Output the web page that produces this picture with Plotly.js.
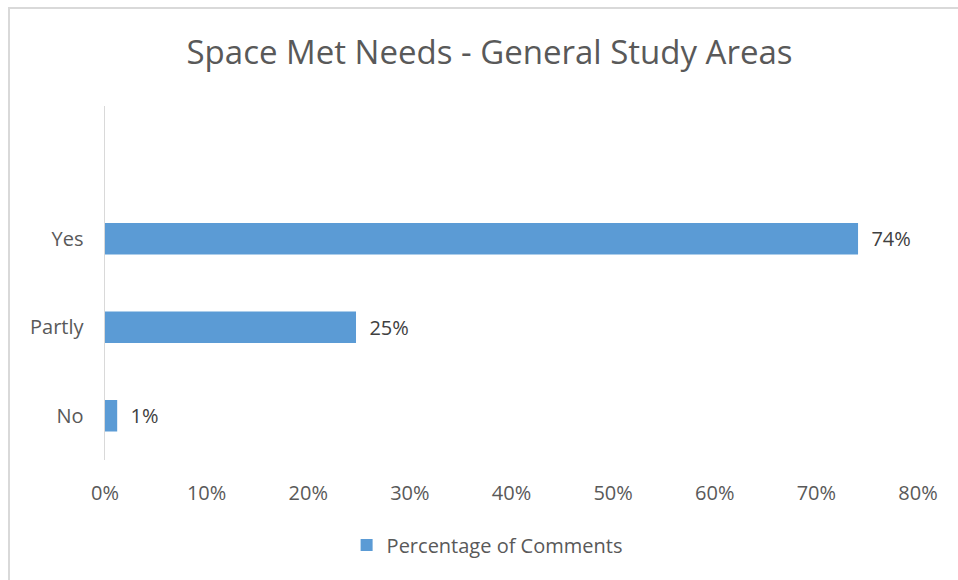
<!DOCTYPE html>
<html>
<head>
<meta charset="utf-8">
<script src="https://cdn.plot.ly/plotly-3.0.1.min.js"></script>
<style>
  html, body { margin: 0; padding: 0; background: #ffffff; overflow: hidden; }
  #wrap { position: relative; width: 958px; height: 580px; overflow: hidden; }
  #chart { position: absolute; left: 0; top: 0; width: 958px; height: 580px; }
  #frame { position: absolute; left: 8px; top: 7px; width: 960px; height: 600px;
           border-left: 2px solid #d9d9d9; border-top: 2px solid #d9d9d9; pointer-events: none; }
</style>
</head>
<body>
<div id="wrap">
  <div id="chart"></div>
  <div id="frame"></div>
</div>
<script>
const categories = ['No', 'Partly', 'Yes', ' '];
const seriesName = 'Percentage of Comments';
const values = [1.2, 24.7, 74.1, null];
const valueLabels = ['1%', '25%', '74%', ''];
const xTickValues = [0, 10, 20, 30, 40, 50, 60, 70, 80];
const xTickLabels = ['0%', '10%', '20%', '30%', '40%', '50%', '60%', '70%', '80%'];

const font = '"Open Sans", sans-serif';

const trace = {
  type: 'bar',
  orientation: 'h',
  name: seriesName,
  y: categories,
  x: values,
  text: valueLabels,
  texttemplate: '\u00a0\u00a0%{text}',
  textposition: 'outside',
  cliponaxis: false,
  textfont: { family: font, size: 20, color: '#404040' },
  marker: { color: '#5b9bd5' },
  hoverinfo: 'none'
};

const layout = {
  width: 958,
  height: 580,
  margin: { l: 105, r: 40, t: 106, b: 119.5 },
  paper_bgcolor: '#ffffff',
  plot_bgcolor: '#ffffff',
  bargap: 0.644,
  showlegend: true,
  title: {
    text: 'Space Met Needs - General Study Areas',
    font: { family: font, size: 33, color: '#595959' },
    x: 0.511, xanchor: 'center', y: 0.91, yanchor: 'middle'
  },
  xaxis: {
    range: [0, 80],
    tickvals: xTickValues,
    ticktext: xTickLabels,
    showgrid: false,
    zeroline: false,
    showline: false,
    ticks: '',
    ticklen: 0,
    ticklabelstandoff: 19,
    tickfont: { family: font, size: 20, color: '#595959' },
    automargin: false
  },
  yaxis: {
    type: 'category',
    categoryorder: 'array',
    categoryarray: categories,
    range: [-0.5, 3.5],
    showgrid: false,
    zeroline: false,
    showline: true,
    linecolor: '#d9d9d9',
    linewidth: 1.5,
    ticks: '',
    ticklabelstandoff: 16,
    tickfont: { family: font, size: 20, color: '#595959' },
    automargin: false
  },
  legend: {
    orientation: 'h',
    x: 0.47, xanchor: 'center',
    y: -0.24, yanchor: 'middle',
    font: { family: font, size: 20, color: '#595959' },
    itemwidth: 30
  }
};

Plotly.newPlot('chart', [trace], layout, { displayModeBar: false, staticPlot: true });
</script>
</body>
</html>
